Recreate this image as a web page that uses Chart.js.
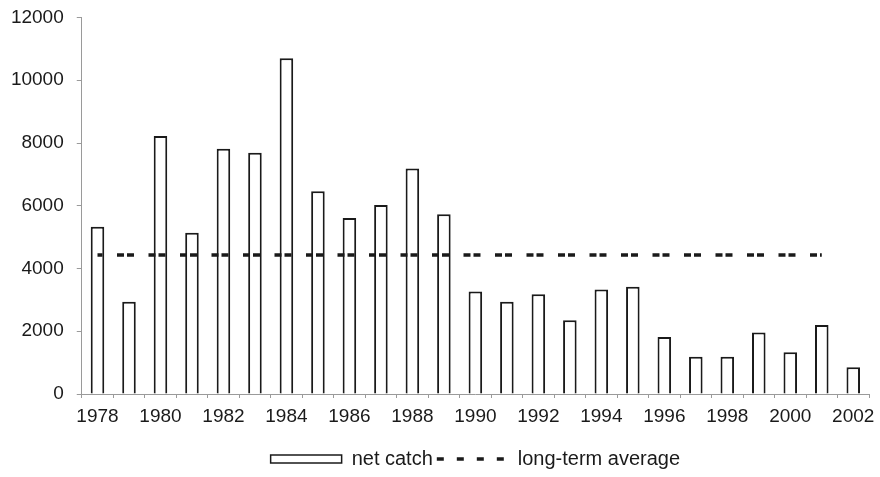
<!DOCTYPE html>
<html>
<head>
<meta charset="utf-8">
<script src="https://cdn.jsdelivr.net/npm/chart.js@4.4.1/dist/chart.umd.min.js"></script>
<style>
  body { margin: 0; background: #fff; }
  #wrap { width: 880px; height: 477px; }
</style>
</head>
<body>
<div id="wrap"><canvas id="catch-chart"></canvas></div>
<script>
const years = ['1978', '1979', '1980', '1981', '1982', '1983', '1984', '1985', '1986', '1987',
    '1988', '1989', '1990', '1991', '1992', '1993', '1994', '1995', '1996', '1997',
    '1998', '1999', '2000', '2001', '2002'];
const netCatch = [5330, 2940, 8220, 5140, 7820, 7690, 10700, 6460, 5610, 6020,
    7190, 5730, 3270, 2940, 3180, 2350, 3330, 3420, 1820, 1190,
    1190, 1960, 1330, 2200, 850];
const longTermAverage = [4430, 4430, 4430, 4430, 4430, 4430, 4430, 4430, 4430, 4430,
    4430, 4430, 4430, 4430, 4430, 4430, 4430, 4430, 4430, 4430,
    4430, 4430, 4430, 4430, null];
const yTicks = [0, 2000, 4000, 6000, 8000, 10000, 12000];

const ink = '#1a1a1a';
const axisGrey = '#9a9a9a';
const font = { family: '"Liberation Sans", Arial, sans-serif', size: 19 };
const legendFont = { family: '"Liberation Sans", Arial, sans-serif', size: 20 };

const ctx = document.getElementById('catch-chart').getContext('2d');

new Chart(ctx, {
    type: 'bar',
    data: {
        labels: years,
        datasets: [{
            type: 'bar',
            label: 'net catch',
            data: netCatch,
            backgroundColor: '#ffffff',
            borderColor: ink,
            borderWidth: 2,
            barPercentage: 0.43,
            categoryPercentage: 1,
            order: 2
        }, {
            type: 'line',
            label: 'long-term average',
            data: longTermAverage,
            borderColor: ink,
            borderWidth: 3.5,
            borderDash: [7, 3, 7, 14.5],
            borderDashOffset: 12,
            pointRadius: 0,
            fill: false,
            spanGaps: false,
            order: 1
        }]
    },
    options: {
        responsive: true,
        maintainAspectRatio: false,
        animation: false,
        layout: { padding: { left: 0, right: 0, top: 0, bottom: -2 } },
        plugins: {
            tooltip: { enabled: false },
            legend: {
                position: 'bottom',
                fullSize: false,
                // empty title only pushes the legend row down
                title: { display: true, text: ' ', font: { size: 1 }, padding: { top: 7.5, bottom: 0 } },
                labels: {
                    color: ink,
                    font: legendFont,
                    usePointStyle: true,
                    pointStyleWidth: 71,
                    boxHeight: 8,
                    padding: 4,
                    sort: (a, b) => a.datasetIndex - b.datasetIndex,
                    generateLabels: chart => {
                        const items = Chart.defaults.plugins.legend.labels.generateLabels(chart);
                        items.forEach(item => {
                            if (item.datasetIndex === 0) {
                                item.pointStyle = 'rect';
                                item.lineWidth = 1.5;
                            } else {
                                item.pointStyle = 'line';
                                item.lineDash = [7, 13];
                                item.lineDashOffset = 0;
                                item.lineWidth = 3.5;
                            }
                        });
                        return items;
                    }
                }
            }
        },
        scales: {
            x: {
                afterFit: axis => {
                    axis.paddingLeft = 0;
                    axis.paddingRight = 11;
                },
                grid: {
                    display: true,
                    drawOnChartArea: false,
                    offset: true,
                    tickLength: 4,
                    color: axisGrey
                },
                border: { color: axisGrey, width: 1 },
                ticks: {
                    color: ink,
                    font: font,
                    autoSkip: false,
                    maxRotation: 0,
                    padding: 7.75,
                    callback: (value, index) => index % 2 === 0 ? years[index] : ''
                }
            },
            y: {
                min: 0,
                max: 12000,
                afterBuildTicks: axis => { axis.ticks = yTicks.map(v => ({ value: v })); },
                afterFit: axis => {
                    axis.width = 81.75;
                    axis.paddingTop = 17.5;
                    axis.paddingBottom = 0;
                },
                grid: {
                    display: true,
                    drawOnChartArea: false,
                    tickLength: 5,
                    color: axisGrey
                },
                border: { color: axisGrey, width: 1 },
                ticks: {
                    color: ink,
                    font: font,
                    padding: 13,
                    callback: value => String(value)
                }
            }
        }
    }
});
</script>
</body>
</html>
